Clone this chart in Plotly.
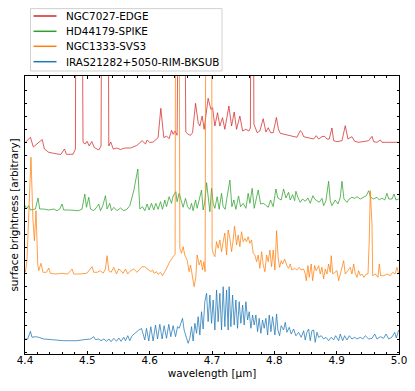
import plotly.graph_objects as go

# spectra, already offset for stacking: (wavelength [um], surface brightness [arbitrary])
names = ["NGC7027-EDGE", "HD44179-SPIKE", "NGC1333-SVS3", "IRAS21282+5050-RIM-BKSUB"]
colors = ["#d62728", "#2ca02c", "#ff7f0e", "#1f77b4"]

ngc7027 = [
    (4.4006, 2.117), (4.4087, 2.167), (4.4134, 2.07), (4.4276, 2.145), (4.4311, 2.05), (4.4381, 2.017),
    (4.4477, 2.005), (4.4573, 1.995), (4.4633, 2.05), (4.4665, 1.997), (4.4771, 1.997), (4.4809, 2.05),
    (4.4830, 8.0), (4.4880, 8.0), (4.4931, 2.117), (4.4967, 2.10), (4.4995, 2.127), (4.5031, 2.08),
    (4.5071, 2.125), (4.5111, 2.065), (4.5183, 2.04), (4.5220, 2.08), (4.5256, 8.0), (4.5312, 8.0),
    (4.5344, 2.08), (4.5376, 2.12), (4.5416, 2.05), (4.5472, 2.06), (4.5532, 2.045), (4.5601, 2.06),
    (4.5692, 2.06), (4.5793, 2.085), (4.5879, 2.133), (4.5933, 2.10), (4.5959, 2.14), (4.6002, 2.115),
    (4.6055, 2.12), (4.6099, 2.147), (4.6135, 2.163), (4.6179, 2.457), (4.6227, 2.163), (4.6270, 2.18),
    (4.6312, 2.153), (4.6351, 2.237), (4.6376, 2.197), (4.6408, 2.23), (4.6440, 2.187), (4.6511, 8.0),
    (4.6556, 8.0), (4.6580, 2.22), (4.6617, 2.197), (4.6656, 2.187), (4.6688, 2.213), (4.6736, 2.507),
    (4.6778, 2.313), (4.6805, 2.28), (4.6842, 2.38), (4.6874, 2.247), (4.6938, 2.557), (4.6982, 2.447),
    (4.7009, 2.463), (4.7046, 2.28), (4.7089, 2.413), (4.7126, 2.28), (4.7169, 2.363), (4.7206, 2.247),
    (4.7271, 2.48), (4.7314, 2.28), (4.7356, 2.42), (4.7394, 2.247), (4.7447, 2.38), (4.7491, 2.23),
    (4.7544, 2.247), (4.7592, 2.23), (4.7616, 2.26), (4.7643, 8.0), (4.7672, 2.30), (4.7725, 2.213),
    (4.7768, 2.23), (4.7821, 2.353), (4.7865, 2.22), (4.7902, 2.263), (4.7940, 2.213), (4.7982, 2.213),
    (4.8033, 2.365), (4.8065, 2.25), (4.8094, 2.207), (4.8138, 2.20), (4.8202, 2.19), (4.8282, 2.183),
    (4.8362, 2.167), (4.8415, 2.233), (4.8443, 2.217), (4.8470, 2.173), (4.8550, 2.16), (4.8631, 2.15),
    (4.8672, 2.183), (4.8711, 2.15), (4.8764, 2.173), (4.8807, 2.177), (4.8844, 2.15), (4.8881, 2.15),
    (4.8924, 2.26), (4.8952, 2.133), (4.9005, 2.123), (4.9085, 2.133), (4.9138, 2.283), (4.9181, 2.15),
    (4.9245, 2.173), (4.9289, 2.127), (4.9353, 2.117), (4.9433, 2.127), (4.9514, 2.133), (4.9567, 2.177),
    (4.9594, 2.123), (4.9647, 2.117), (4.9700, 2.14), (4.9727, 2.117), (4.9807, 2.117), (4.9887, 2.117),
    (4.9995, 2.117),
]

hd44179 = [
    (4.4006, 1.483), (4.4022, 1.45), (4.4059, 1.483), (4.4087, 1.44), (4.4167, 1.45), (4.4209, 1.56),
    (4.4236, 1.45), (4.4300, 1.45), (4.4381, 1.44), (4.4461, 1.45), (4.4514, 1.433), (4.4557, 1.45),
    (4.4594, 1.50), (4.4621, 1.44), (4.4702, 1.44), (4.4782, 1.433), (4.4862, 1.433), (4.4915, 1.45),
    (4.4959, 1.60), (4.4986, 1.467), (4.5023, 1.567), (4.5050, 1.45), (4.5103, 1.433), (4.5156, 1.473),
    (4.5183, 1.50), (4.5211, 1.433), (4.5248, 1.483), (4.5291, 1.583), (4.5317, 1.45), (4.5360, 1.507),
    (4.5387, 1.433), (4.5424, 1.467), (4.5477, 1.433), (4.5532, 1.46), (4.5585, 1.433), (4.5638, 1.45),
    (4.5681, 1.483), (4.5745, 1.633), (4.5810, 1.85), (4.5842, 1.45), (4.5885, 1.473), (4.5922, 1.433),
    (4.5959, 1.50), (4.5991, 1.44), (4.6029, 1.507), (4.6066, 1.44), (4.6099, 1.507), (4.6135, 1.447),
    (4.6174, 1.523), (4.6206, 1.447), (4.6243, 1.54), (4.6270, 1.473), (4.6312, 1.573), (4.6351, 1.507),
    (4.6376, 1.58), (4.6420, 1.623), (4.6440, 1.523), (4.6473, 1.607), (4.6511, 1.507), (4.6537, 1.467),
    (4.6575, 1.557), (4.6608, 1.473), (4.6644, 1.447), (4.6672, 1.507), (4.6697, 1.433), (4.6736, 1.54),
    (4.6762, 1.457), (4.6794, 1.557), (4.6832, 1.64), (4.6858, 1.44), (4.6885, 1.523), (4.6913, 1.713),
    (4.6938, 1.54), (4.6966, 1.423), (4.6993, 1.657), (4.7019, 1.507), (4.7046, 1.457), (4.7083, 1.573),
    (4.7115, 1.447), (4.7153, 1.607), (4.7179, 1.473), (4.7211, 1.447), (4.7243, 1.573), (4.7287, 1.74),
    (4.7319, 1.473), (4.7351, 1.54), (4.7383, 1.447), (4.7426, 1.58), (4.7458, 1.473), (4.7500, 1.507),
    (4.7544, 1.457), (4.7580, 1.607), (4.7608, 1.507), (4.7645, 1.657), (4.7677, 1.457), (4.7715, 1.573),
    (4.7741, 1.64), (4.7780, 1.50), (4.7821, 1.507), (4.7860, 1.49), (4.7902, 1.467), (4.7940, 1.54),
    (4.7982, 1.473), (4.8025, 1.65), (4.8057, 1.56), (4.8110, 1.54), (4.8149, 1.65), (4.8186, 1.56),
    (4.8229, 1.617), (4.8255, 1.54), (4.8293, 1.593), (4.8326, 1.533), (4.8346, 1.627), (4.8378, 1.567),
    (4.8415, 1.517), (4.8454, 1.55), (4.8496, 1.527), (4.8539, 1.56), (4.8576, 1.507), (4.8619, 1.583),
    (4.8647, 1.55), (4.8684, 1.533), (4.8720, 1.517), (4.8764, 1.557), (4.8791, 1.483), (4.8828, 1.533),
    (4.8871, 1.727), (4.8897, 1.533), (4.8924, 1.483), (4.8977, 1.54), (4.9021, 1.50), (4.9058, 1.567),
    (4.9085, 1.727), (4.9117, 1.55), (4.9165, 1.517), (4.9202, 1.55), (4.9245, 1.567), (4.9289, 1.557),
    (4.9326, 1.573), (4.9379, 1.55), (4.9433, 1.567), (4.9475, 1.583), (4.9514, 1.633), (4.9546, 1.567),
    (4.9594, 1.55), (4.9647, 1.567), (4.9684, 1.54), (4.9727, 1.56), (4.9771, 1.54), (4.9807, 1.607),
    (4.9835, 1.55), (4.9888, 1.55), (4.9920, 1.60), (4.9952, 1.54), (4.9995, 1.55),
]

ngc1333 = [
    (4.4006, 0.817), (4.4032, 0.933), (4.4096, 1.967), (4.4128, 1.34), (4.4151, 1.133), (4.4177, 1.433),
    (4.4204, 0.90), (4.4220, 0.833), (4.4257, 0.907), (4.4289, 0.817), (4.4344, 0.817), (4.4381, 0.86),
    (4.4408, 0.807), (4.4493, 0.80), (4.4589, 0.807), (4.4686, 0.80), (4.4755, 0.85), (4.4782, 0.80),
    (4.4878, 0.80), (4.4991, 0.807), (4.5076, 0.873), (4.5103, 0.817), (4.5156, 0.817), (4.5211, 0.833),
    (4.5252, 0.807), (4.5291, 0.85), (4.5317, 0.983), (4.5344, 0.833), (4.5381, 0.817), (4.5424, 0.867),
    (4.5468, 0.80), (4.5504, 0.85), (4.5541, 0.833), (4.5573, 0.807), (4.5612, 0.85), (4.5649, 0.80),
    (4.5692, 0.833), (4.5745, 0.85), (4.5798, 0.817), (4.5879, 0.873), (4.5922, 0.873), (4.5959, 0.857),
    (4.5991, 0.84), (4.6018, 0.823), (4.6046, 0.84), (4.6071, 0.807), (4.6110, 0.823), (4.6135, 0.797),
    (4.6174, 0.817), (4.6206, 0.783), (4.6243, 0.823), (4.6280, 0.873), (4.6323, 0.923), (4.6376, 0.973),
    (4.6408, 0.997), (4.6428, 8.0), (4.6457, 8.0), (4.6484, 1.057), (4.6511, 1.007), (4.6537, 1.073),
    (4.6564, 0.99), (4.6601, 0.94), (4.6633, 0.823), (4.6656, 0.89), (4.6688, 0.757), (4.6713, 0.673),
    (4.6741, 0.773), (4.6762, 0.99), (4.6794, 0.89), (4.6821, 0.94), (4.6848, 0.84), (4.6869, 0.923),
    (4.6890, 0.823), (4.6917, 8.0), (4.6982, 8.0), (4.7002, 1.057), (4.7019, 1.007), (4.7046, 0.973),
    (4.7073, 1.123), (4.7099, 1.057), (4.7126, 1.14), (4.7153, 1.023), (4.7179, 1.123), (4.7206, 1.21),
    (4.7234, 0.99), (4.7259, 1.24), (4.7287, 1.157), (4.7314, 1.023), (4.7340, 1.14), (4.7362, 1.28),
    (4.7394, 1.09), (4.7420, 1.19), (4.7447, 1.073), (4.7474, 1.223), (4.7500, 1.123), (4.7527, 1.157),
    (4.7555, 1.123), (4.7580, 1.173), (4.7608, 1.107), (4.7635, 1.14), (4.7661, 1.007), (4.7688, 0.99),
    (4.7715, 0.923), (4.7741, 0.99), (4.7768, 0.857), (4.7796, 1.023), (4.7821, 0.89), (4.7849, 0.823),
    (4.7876, 0.99), (4.7902, 0.923), (4.7929, 1.04), (4.7956, 0.873), (4.7982, 1.04), (4.8009, 0.84),
    (4.8036, 1.233), (4.8062, 0.96), (4.8084, 0.867), (4.8110, 0.933), (4.8133, 0.90), (4.8165, 0.95),
    (4.8202, 0.883), (4.8229, 0.857), (4.8255, 0.90), (4.8282, 0.84), (4.8326, 0.857), (4.8362, 0.84),
    (4.8399, 0.867), (4.8431, 0.84), (4.8470, 0.85), (4.8496, 0.80), (4.8512, 0.733), (4.8539, 0.883),
    (4.8560, 0.767), (4.8592, 0.90), (4.8614, 0.733), (4.8647, 0.883), (4.8672, 0.833), (4.8711, 0.883),
    (4.8737, 0.80), (4.8764, 0.867), (4.8791, 0.75), (4.8817, 0.85), (4.8844, 0.80), (4.8871, 0.90),
    (4.8897, 0.817), (4.8913, 0.983), (4.8936, 0.80), (4.8968, 0.817), (4.9005, 0.833), (4.9032, 0.733),
    (4.9058, 0.80), (4.9085, 0.867), (4.9112, 0.933), (4.9138, 0.80), (4.9181, 0.833), (4.9218, 0.867),
    (4.9245, 0.80), (4.9273, 0.90), (4.9298, 0.807), (4.9326, 0.767), (4.9353, 0.833), (4.9379, 0.783),
    (4.9406, 0.80), (4.9438, 0.767), (4.9475, 0.80), (4.9503, 0.80), (4.9523, 1.14), (4.9539, 1.633),
    (4.9567, 1.30), (4.9578, 0.783), (4.9620, 0.80), (4.9663, 0.767), (4.9684, 0.90), (4.9706, 0.783),
    (4.9754, 0.783), (4.9807, 0.80), (4.9860, 0.783), (4.9899, 0.817), (4.9936, 0.80), (4.9968, 0.867),
    (4.9995, 0.80),
]

iras21282 = [
    (4.4006, 0.15), (4.4043, 0.15), (4.4087, 0.227), (4.4112, 0.167), (4.4167, 0.173), (4.4220, 0.167),
    (4.4300, 0.15), (4.4408, 0.143), (4.4514, 0.133), (4.4621, 0.133), (4.4729, 0.133), (4.4835, 0.133),
    (4.4942, 0.143), (4.5050, 0.15), (4.5103, 0.173), (4.5130, 0.143), (4.5183, 0.15), (4.5220, 0.133),
    (4.5264, 0.15), (4.5307, 0.127), (4.5349, 0.15), (4.5381, 0.123), (4.5424, 0.157), (4.5468, 0.127),
    (4.5504, 0.16), (4.5541, 0.127), (4.5585, 0.167), (4.5612, 0.133), (4.5649, 0.183), (4.5681, 0.133),
    (4.5718, 0.183), (4.5773, 0.217), (4.5826, 0.24), (4.5869, 0.255), (4.5895, 0.19), (4.5922, 0.14),
    (4.5949, 0.257), (4.5986, 0.13), (4.6018, 0.273), (4.6055, 0.13), (4.6094, 0.29), (4.6126, 0.15),
    (4.6163, 0.297), (4.6200, 0.15), (4.6232, 0.283), (4.6270, 0.157), (4.6307, 0.297), (4.6339, 0.173),
    (4.6376, 0.283), (4.6415, 0.173), (4.6447, 0.273), (4.6473, 0.257), (4.6500, 0.305), (4.6527, 0.357),
    (4.6553, 0.24), (4.6591, 0.173), (4.6617, 0.107), (4.6644, 0.157), (4.6672, 0.273), (4.6697, 0.13),
    (4.6725, 0.307), (4.6752, 0.207), (4.6778, 0.373), (4.6805, 0.19), (4.6832, 0.423), (4.6858, 0.25),
    (4.6885, 0.523), (4.6913, 0.607), (4.6938, 0.323), (4.6966, 0.59), (4.6993, 0.307), (4.7019, 0.54),
    (4.7046, 0.24), (4.7073, 0.64), (4.7099, 0.323), (4.7126, 0.607), (4.7153, 0.24), (4.7179, 0.673),
    (4.7206, 0.273), (4.7234, 0.64), (4.7259, 0.24), (4.7275, 0.673), (4.7303, 0.273), (4.7330, 0.59),
    (4.7356, 0.29), (4.7383, 0.54), (4.7410, 0.257), (4.7436, 0.523), (4.7463, 0.307), (4.7491, 0.49),
    (4.7516, 0.29), (4.7544, 0.523), (4.7571, 0.34), (4.7597, 0.423), (4.7624, 0.257), (4.7651, 0.39),
    (4.7677, 0.29), (4.7704, 0.39), (4.7731, 0.223), (4.7757, 0.357), (4.7784, 0.207), (4.7811, 0.34),
    (4.7837, 0.257), (4.7865, 0.357), (4.7892, 0.19), (4.7918, 0.39), (4.7945, 0.223), (4.7972, 0.373),
    (4.8009, 0.19), (4.8036, 0.40), (4.8057, 0.24), (4.8084, 0.183), (4.8110, 0.283), (4.8149, 0.24),
    (4.8175, 0.317), (4.8202, 0.217), (4.8239, 0.267), (4.8271, 0.20), (4.8309, 0.25), (4.8346, 0.183),
    (4.8390, 0.217), (4.8431, 0.167), (4.8470, 0.233), (4.8496, 0.14), (4.8523, 0.217), (4.8550, 0.25),
    (4.8576, 0.133), (4.8603, 0.233), (4.8631, 0.24), (4.8656, 0.117), (4.8684, 0.217), (4.8711, 0.167),
    (4.8753, 0.183), (4.8791, 0.15), (4.8828, 0.167), (4.8871, 0.133), (4.8913, 0.167), (4.8952, 0.14),
    (4.8984, 0.183), (4.9032, 0.133), (4.9058, 0.20), (4.9096, 0.133), (4.9128, 0.183), (4.9165, 0.14),
    (4.9202, 0.183), (4.9245, 0.15), (4.9289, 0.167), (4.9326, 0.15), (4.9379, 0.167), (4.9417, 0.15),
    (4.9459, 0.183), (4.9514, 0.15), (4.9567, 0.157), (4.9610, 0.20), (4.9647, 0.15), (4.9700, 0.173),
    (4.9754, 0.157), (4.9791, 0.20), (4.9835, 0.15), (4.9888, 0.17), (4.9931, 0.217), (4.9957, 0.16),
    (4.9995, 0.24),
]

spectra = [ngc7027, hd44179, ngc1333, iras21282]

fig = go.Figure()
for name, color, spec in zip(names, colors, spectra):
    wl, fl = zip(*spec)
    fig.add_trace(go.Scatter(x=wl, y=fl, mode="lines", name=name,
                             line=dict(color=color, width=0.75), showlegend=False))

# plot area sits at page x 25..399, y 76..354 (the page body adds an 8px margin)
def px_x(p):
    return (p - 25) / 374

def px_y(p):
    return (354 - p) / 278

# matplotlib-style legend box above the axes
fig.add_shape(type="rect", xref="paper", yref="paper",
              x0=px_x(30.5), x1=px_x(222), y0=px_y(71), y1=px_y(8.6),
              line=dict(color="rgba(204,204,204,0.9)", width=1), fillcolor="white")
rows = [16, 31.3, 46.3, 61.7]
for name, color, row in zip(names, colors, rows):
    fig.add_shape(type="line", xref="paper", yref="paper",
                  x0=px_x(33.5), x1=px_x(56.5), y0=px_y(row), y1=px_y(row),
                  line=dict(color=color, width=1.5))
    fig.add_annotation(text=name, xref="paper", yref="paper", x=px_x(64), y=px_y(row),
                       xanchor="left", yanchor="middle", showarrow=False,
                       font=dict(size=10.4, color="black"))

axis_style = dict(showline=True, linecolor="black", linewidth=0.8, mirror="allticks",
                  ticks="inside", tickcolor="black", tickwidth=0.8,
                  showgrid=False, zeroline=False, automargin=False)

fig.update_xaxes(range=[4.4, 5.0], tick0=4.4, dtick=0.1, ticklen=3.5, tickformat=".1f",
                 tickfont=dict(size=10.4, color="black"), ticklabelstandoff=-3,
                 minor=dict(dtick=0.02, ticks="inside", ticklen=2, tickcolor="black", tickwidth=0.6),
                 title=dict(text="wavelength [µm]", font=dict(size=10.4, color="black"), standoff=4),
                 **axis_style)
fig.update_yaxes(range=[0, 2.78], tick0=0.15, dtick=0.131, ticklen=2.5, showticklabels=False,
                 title=dict(text="surface brightness [arbitrary]", font=dict(size=10.4, color="black"),
                            standoff=11),
                 **axis_style)

fig.update_layout(
    width=407, height=383,
    margin=dict(l=17, r=16, t=68, b=37, pad=0),
    plot_bgcolor="white", paper_bgcolor="white",
    font=dict(family="DejaVu Sans", size=10.4, color="black"),
    showlegend=False,
)

fig.write_html("out.html")
